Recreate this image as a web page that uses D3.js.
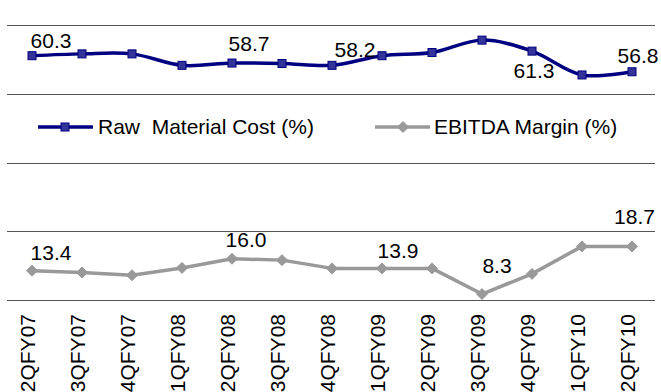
<!DOCTYPE html>
<html>
<head>
<meta charset="utf-8">
<script src="https://cdn.jsdelivr.net/npm/d3@7"></script>
<style>
  html, body { margin: 0; padding: 0; background: #fff; }
  svg { display: block; font-family: "Liberation Sans", Arial, sans-serif; }
  text { white-space: pre; }
</style>
</head>
<body>
<svg id="chart" width="661" height="392"></svg>
<script>
// Quarterly categories
const categories = ["2QFY07","3QFY07","4QFY07","1QFY08","2QFY08","3QFY08","4QFY08",
                    "1QFY09","2QFY09","3QFY09","4QFY09","1QFY10","2QFY10"];
// Raw material cost as % of sales
const rawMaterial = [60.3, 60.7, 60.7, 58.2, 58.7, 58.6, 58.2, 60.3, 61.0, 63.7, 61.3, 56.1, 56.8];
// EBITDA margin %
const ebitda = [13.4, 13.0, 12.4, 14.0, 16.0, 15.7, 13.9, 13.9, 13.9, 8.3, 12.7, 18.7, 18.7];
// Points that carry a value label
const rawLabelIdx = [0, 4, 6, 10, 12];
const ebitdaLabelIdx = [0, 4, 7, 9, 12];
// Value axis
const yMin = 7, yMax = 67, yStep = 15;
const seriesNames = ["Raw  Material Cost (%)", "EBITDA Margin (%)"];

(function draw() {
  const svg = d3.select("#chart");
  const plotL = 7, plotR = 657, plotT = 25, plotB = 300;

  const x = d3.scalePoint().domain(categories).range([plotL, plotR]).padding(0.5);
  const y = d3.scaleLinear().domain([yMin, yMax]).range([plotB, plotT]);

  const NAVY = "#000080", MARK = "#333399", GREY = "#999999";
  const FS = 21;

  // horizontal gridlines
  const ticks = d3.range(yMin, yMax + 0.001, yStep);
  svg.append("g").selectAll("line").data(ticks).join("line")
    .attr("x1", plotL).attr("x2", 655)
    .attr("y1", d => Math.round(y(d)) + 0.5).attr("y2", d => Math.round(y(d)) + 0.5)
    .attr("stroke", "#555").attr("stroke-width", 1.2);

  // category labels (rotated)
  svg.append("g").selectAll("text").data(categories).join("text")
    .attr("transform", d => `translate(${x(d) + 3},314) rotate(-90)`)
    .attr("text-anchor", "end")
    .attr("font-size", FS).attr("fill", "#000")
    .text(d => d);

  const rawPts = categories.map((c, i) => [x(c), y(rawMaterial[i])]);
  const ebPts = categories.map((c, i) => [x(c), y(ebitda[i])]);

  // EBITDA line
  svg.append("path")
    .attr("d", d3.line().curve(d3.curveLinear)(ebPts))
    .attr("fill", "none").attr("stroke", GREY).attr("stroke-width", 3.5)
    .attr("stroke-linejoin", "round");
  const diamond = (cx, cy, r) => `M${cx},${cy - r}L${cx + r},${cy}L${cx},${cy + r}L${cx - r},${cy}Z`;
  svg.append("g").selectAll("path").data(ebPts).join("path")
    .attr("d", p => diamond(p[0], p[1], 5.5))
    .attr("fill", GREY).attr("stroke", GREY).attr("stroke-width", 1);

  // Raw material line (smoothed)
  svg.append("path")
    .attr("d", d3.line().curve(d3.curveCatmullRom.alpha(0.5))(rawPts))
    .attr("fill", "none").attr("stroke", NAVY).attr("stroke-width", 3.5);
  svg.append("g").selectAll("rect").data(rawPts).join("rect")
    .attr("x", p => p[0] - 4).attr("y", p => p[1] - 4)
    .attr("width", 8).attr("height", 8)
    .attr("fill", MARK).attr("stroke", NAVY).attr("stroke-width", 1);

  // value labels; offsets place each label clear of the line
  const rawOffsets = {0: [19, -8], 4: [17, -12], 6: [23, -8], 10: [2, 27], 12: [6, -8.6]};
  const ebOffsets = {0: [19, -10.7], 4: [14, -11.6], 7: [16, -10.4], 9: [15, -21], 12: [2.5, -22]};
  function labels(idx, values, offsets) {
    svg.append("g").selectAll("text").data(idx).join("text")
      .attr("x", i => x(categories[i]) + offsets[i][0])
      .attr("y", i => y(values[i]) + offsets[i][1])
      .attr("text-anchor", "middle").attr("font-size", FS).attr("fill", "#000")
      .text(i => values[i].toFixed(1));
  }
  labels(rawLabelIdx, rawMaterial, rawOffsets);
  labels(ebitdaLabelIdx, ebitda, ebOffsets);

  // legend
  const ly = 127;
  const lg = svg.append("g");
  lg.append("line").attr("x1", 38).attr("x2", 93).attr("y1", ly).attr("y2", ly)
    .attr("stroke", NAVY).attr("stroke-width", 3.5);
  lg.append("rect").attr("x", 61).attr("y", ly - 4).attr("width", 8).attr("height", 8)
    .attr("fill", MARK).attr("stroke", NAVY);
  lg.append("text").attr("x", 98).attr("y", ly + 7).attr("font-size", FS).text(seriesNames[0]);
  lg.append("line").attr("x1", 375).attr("x2", 430).attr("y1", ly).attr("y2", ly)
    .attr("stroke", GREY).attr("stroke-width", 3.5);
  lg.append("path").attr("d", diamond(403, ly, 5.5)).attr("fill", GREY).attr("stroke", GREY);
  lg.append("text").attr("x", 434).attr("y", ly + 7).attr("font-size", FS).text(seriesNames[1]);
})();
</script>
</body>
</html>
